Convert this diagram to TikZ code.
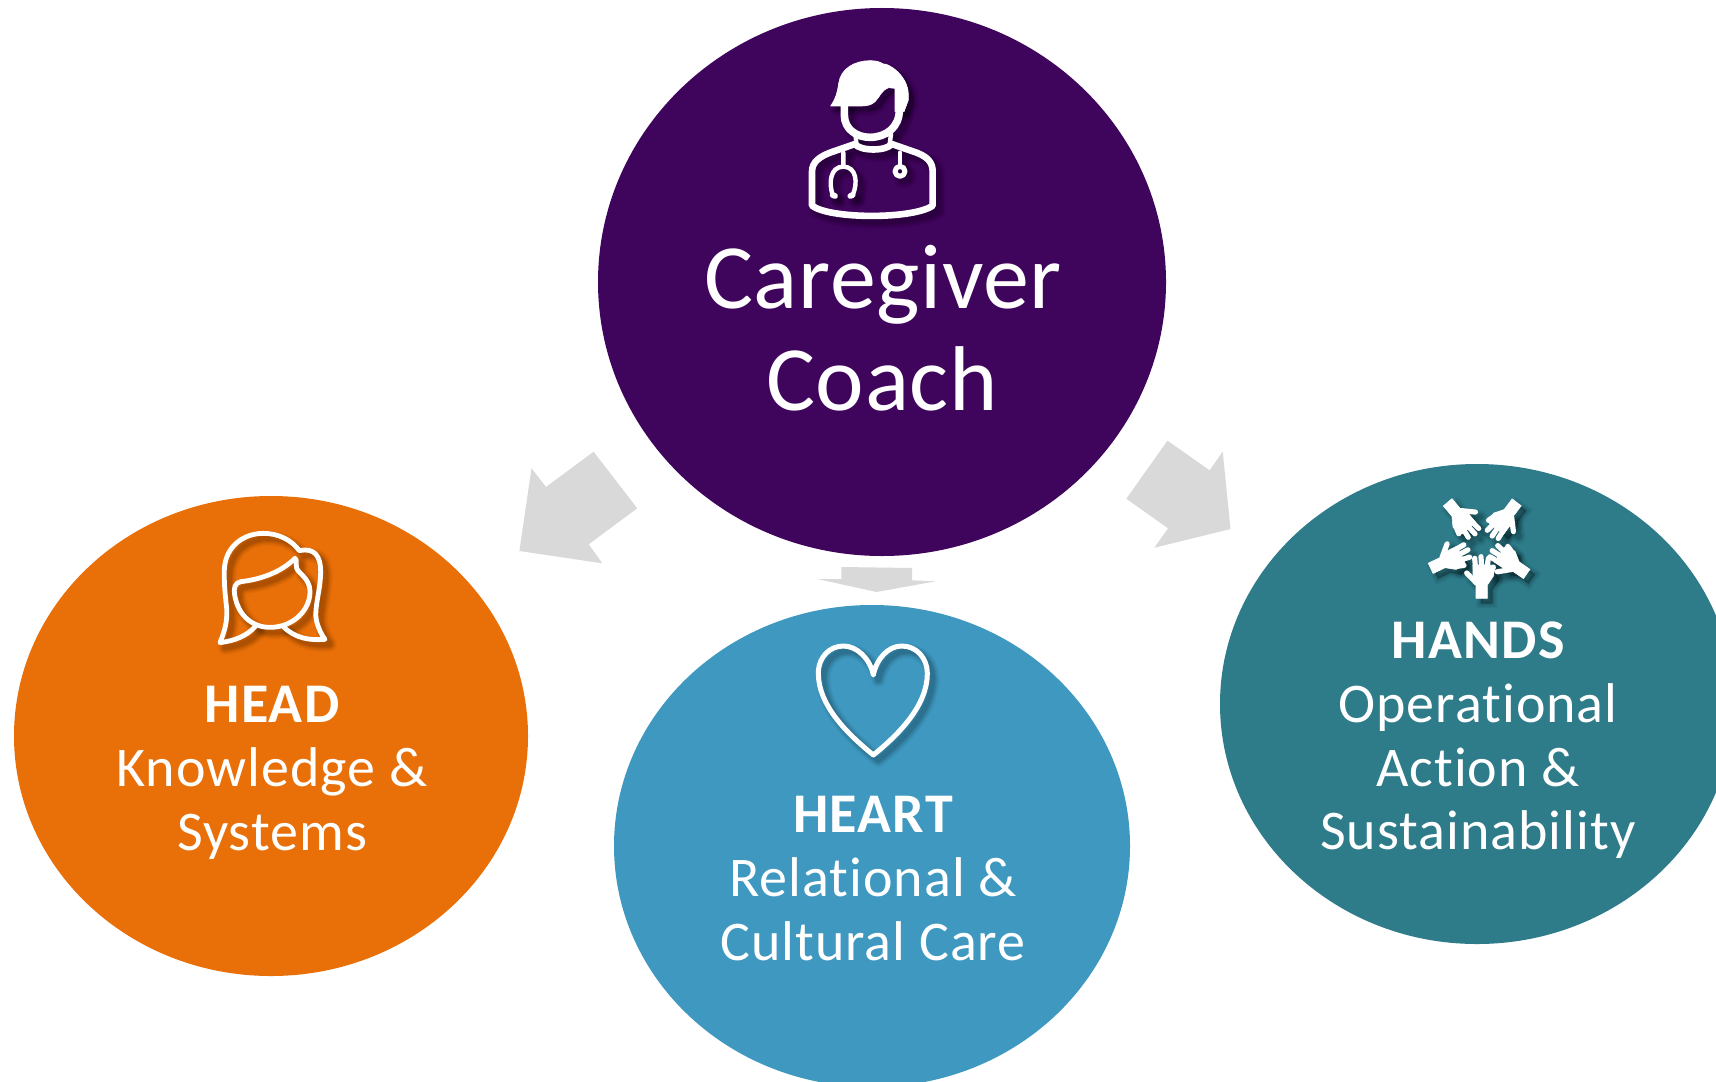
\documentclass[tikz,border=0pt]{standalone}
\usepackage{fontspec}
\setmainfont{Carlito}
\newfontfamily\bigf[LetterSpace=0.7,Ligatures=NoCommon]{Carlito}
\newfontfamily\smallf[LetterSpace=1.8,Ligatures=NoCommon]{Carlito}
\newfontfamily\boldf[LetterSpace=2.3,Ligatures=NoCommon]{Carlito Bold}
\usetikzlibrary{shapes.geometric}
\definecolor{coachc}{HTML}{3F045C}
\definecolor{headc}{HTML}{E96F08}
\definecolor{heartc}{HTML}{3E98C0}
\definecolor{handsc}{HTML}{2E7B8A}
\definecolor{arrowc}{HTML}{D9D9D9}
\tikzset{
  blob/.style={ellipse,inner sep=0pt,outer sep=0pt},
  big/.style={anchor=base,text=white,font=\bigf\fontsize{46}{46}\selectfont},
  small/.style={anchor=base,text=white,font=\smallf\fontsize{28}{28}\selectfont},
  smallb/.style={anchor=base,text=white,font=\boldf\fontsize{28}{28}\selectfont},
  blockarrow/.style={fill=arrowc,draw=none},
}
\def\xw{0pt}
\def\ink{white}
% ---- icons ----
\newcommand\docicon{%
 \begin{scope}[shift={(780,40)},scale=1/3,line join=round,line cap=round]
  \path[fill=\ink,draw=\ink,line width={0.3pt+\xw}] (152,198) .. controls (165,180) and (172,160) .. (176,130)
    .. controls (182,85) and (225,62) .. (270,62) .. controls (290,62) and (300,66) .. (310,72)
    .. controls (322,68) and (385,105) .. (385,165) -- (385,180) -- (372,215) -- (345,215) -- (345,145) -- (325,143)
    .. controls (305,150) and (300,170) .. (285,185) .. controls (275,195) and (260,198) .. (245,198) -- cycle;
  \draw[\ink,line width={3.8pt+\xw}] (193,195) -- (193,225) .. controls (193,268) and (230,292) .. (270,292)
    .. controls (318,292) and (358,262) .. (358,210) -- (358,150);
  \draw[\ink,line width={2.2pt+\xw}] (227,288) -- (229,312) (333,282) -- (329,312);
  \draw[\ink,line width={3.3pt+\xw}] (96,497) -- (96,395) .. controls (96,365) and (120,350) .. (150,338)
    -- (225,312) .. controls (240,334) and (320,334) .. (335,312) -- (410,338)
    .. controls (440,350) and (458,365) .. (458,395) -- (458,497)
    .. controls (400,538) and (150,538) .. (96,497) -- cycle;
  \draw[\ink,line width={2.2pt+\xw}] (190,338) -- (190,378)
    (158,465) .. controls (146,430) and (150,380) .. (190,380) .. controls (230,380) and (234,430) .. (218,465);
  \draw[\ink,line width={2.9pt+\xw}] (158,465) -- (165,468) (218,465) -- (211,468);
  \draw[\ink,line width={2.2pt+\xw}] (360,338) -- (360,378);
  \draw[\ink,line width={2.5pt+\xw}] (360,394) circle [radius=15];
 \end{scope}}
\newcommand\headicon{%
 \begin{scope}[shift={(200,510)},scale=1/3,line join=round,line cap=round,\ink,line width={2.4pt+\xw}]
  \draw (165,350) .. controls (140,378) and (105,392) .. (60,398)
    .. controls (75,360) and (82,335) .. (80,295) .. controls (75,250) and (72,220) .. (73,180)
    .. controls (75,110) and (130,70) .. (190,70) .. controls (235,70) and (275,90) .. (298,122)
    .. controls (345,112) and (362,140) .. (362,185) .. controls (362,240) and (340,300) .. (350,335)
    .. controls (355,355) and (365,375) .. (375,388) .. controls (330,392) and (285,385) .. (250,350);
  \draw (285,145) .. controls (245,185) and (185,208) .. (122,215)
    .. controls (105,218) and (100,235) .. (104,255) .. controls (115,320) and (160,352) .. (210,352)
    .. controls (280,352) and (330,300) .. (330,245) .. controls (330,205) and (295,190) .. (290,175)
    .. controls (287,165) and (292,150) .. (285,145) -- cycle;
 \end{scope}}
\newcommand\hearticon{%
 \begin{scope}[shift={(790,630)},scale=1/3,line join=round,\ink,line width={2.5pt+\xw}]
  \draw (250,375) .. controls (170,310) and (85,225) .. (85,130)
    .. controls (85,80) and (120,48) .. (160,48) .. controls (200,48) and (240,85) .. (250,135)
    .. controls (260,85) and (295,48) .. (335,48) .. controls (380,48) and (412,85) .. (412,130)
    .. controls (412,225) and (330,310) .. (250,375) -- cycle;
 \end{scope}}
\newcommand\onehand{%
  \path[fill=\ink,draw=\ink,line width={0.3pt+\xw}] (-17,0) -- (17,0) -- (17,-40) -- (36,-68) -- (28,-100) -- (-26,-100) -- (-26,-55) -- (-17,-40) -- cycle;
  \draw[\ink,line cap=round,line width={2.6pt+\xw}]
    (-15,-45) -- (-45,-76) (-18,-85) -- (-21,-120) (0,-85) -- (-2,-125) (15,-85) -- (20,-120) (28,-72) -- (35,-94);}
\newcommand\handsicon{%
 \begin{scope}[shift={(1410,490)},scale=1/3]
  \begin{scope}[shift={(215,325)}]\onehand\end{scope}
  \begin{scope}[shift={(62,235)},rotate=-64.5]\onehand\end{scope}
  \begin{scope}[shift={(350,252)},rotate=55]\onehand\end{scope}
  \begin{scope}[shift={(113,37)},rotate=-140]\onehand\end{scope}
  \begin{scope}[shift={(320,37)},rotate=143]\onehand\end{scope}
 \end{scope}}
\newcommand\softicon[1]{%
  \foreach \wd/\op in {5.0pt/0.025,4.0pt/0.03,3.0pt/0.04,2.0pt/0.05,1.0pt/0.06,0pt/0.07}{%
    \begin{scope}[shift={(5,5)},opacity=\op]
      \def\xw{\wd}\def\ink{black}#1
    \end{scope}}
  #1}
\begin{document}
\begin{tikzpicture}[x=0.5pt,y=-0.5pt]
\useasboundingbox (0,0) rectangle (1716,1081);
\clip (0,0) rectangle (1716,1081);
\fill[white] (0,0) rectangle (1716,1081);
% circles
\node[blob,fill=coachc,minimum width=284pt,minimum height=274pt] (coach) at (882,282) {};
\node[blob,fill=headc,minimum width=257pt,minimum height=240pt] (head) at (271,736) {};
\node[blob,fill=heartc,minimum width=258pt,minimum height=241pt] (heart) at (872,846) {};
\node[blob,fill=handsc,minimum width=257pt,minimum height=240pt] (hands) at (1477,704) {};
% block arrows
\fill[blockarrow] (593.6,451.7) -- (637.2,508.3) -- (588.7,544.3) -- (602.3,563.3) -- (519.4,551) -- (531.5,468.3) -- (546,487) -- cycle;
\fill[blockarrow] (1167.5,440.7) -- (1209.6,470.3) -- (1222.7,451.7) -- (1230.5,529) -- (1154.4,547.7) -- (1168,528.3) -- (1126.3,498.7) -- cycle;
\fill[blockarrow] (841.3,567) -- (912,568) -- (912,580.3) -- (935.3,581.3) -- (876.6,592) -- (817.5,579) -- (841.3,579) -- cycle;
% icons
\softicon{\docicon}
\softicon{\headicon}
\softicon{\hearticon}
\softicon{\handsicon}
% text
\node[big] (t1) at (883,308) {Caregiver};
\node[big] (t2) at (882,410) {Coach};
\node[smallb] (t3) at (272,722) {HEAD};
\node[small] (t4) at (272,786) {Knowledge \&};
\node[small] (t5) at (272,850) {Systems};
\node[smallb] (t6) at (873,832) {HEART};
\node[small] (t7) at (873,896) {Relational \&};
\node[small] (t8) at (873,960) {Cultural Care};
\node[smallb] (t9) at (1478,658) {HANDS};
\node[small] (t10) at (1478,722) {Operational};
\node[small] (t11) at (1478,786) {Action \&};
\node[small] (t12) at (1478,849) {Sustainability};
\end{tikzpicture}
\end{document}
